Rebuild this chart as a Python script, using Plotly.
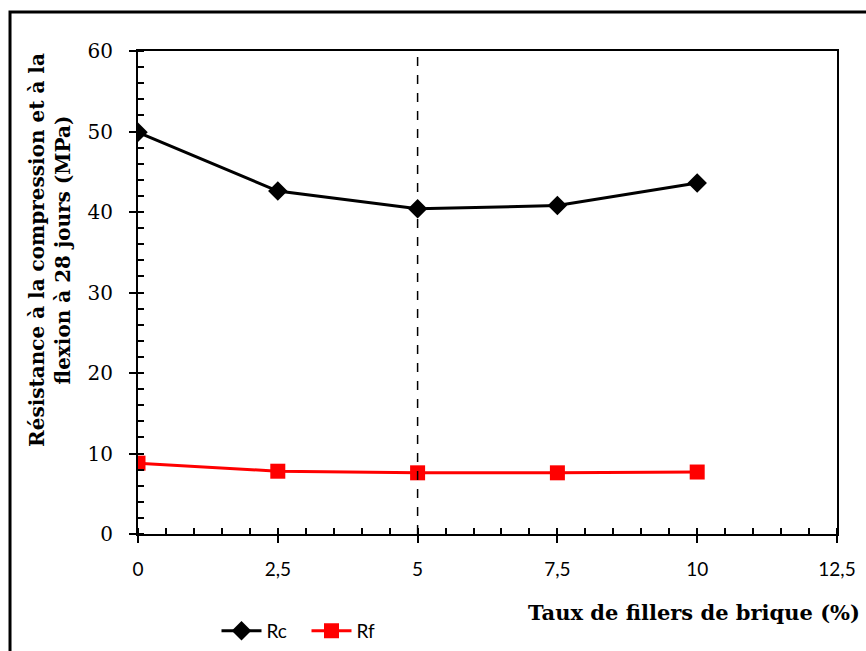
import plotly.graph_objects as go

# Taux de fillers de brique (%) et résistances à 28 jours (MPa)
taux = [0, 2.5, 5, 7.5, 10]
rc = [49.9, 42.6, 40.4, 40.8, 43.6]
rf = [8.8, 7.8, 7.6, 7.6, 7.7]

x_ticks = [0, 2.5, 5, 7.5, 10, 12.5]
x_tick_labels = ["0", "2,5", "5", "7,5", "10", "12,5"]
y_ticks = [0, 10, 20, 30, 40, 50, 60]
taux_repere = 5

fig = go.Figure()
fig.add_trace(go.Scatter(
    x=taux, y=rc, name="Rc", mode="lines+markers",
    line=dict(color="black", width=3),
    marker=dict(symbol="diamond", size=15, color="black"),
))
fig.add_trace(go.Scatter(
    x=taux, y=rf, name="Rf", mode="lines+markers",
    line=dict(color="#ff0000", width=3),
    marker=dict(symbol="square", size=15, color="#ff0000"),
))

# Repère vertical en pointillés
fig.add_shape(type="line", xref="x", yref="y",
              x0=taux_repere, x1=taux_repere, y0=0, y1=60,
              line=dict(color="black", width=1.5, dash="dash"))

# Cadre extérieur
fig.add_shape(type="rect", xref="paper", yref="paper",
              x0=-0.1831, x1=1.1, y0=-0.35, y1=1.0807,
              line=dict(color="black", width=3), layer="above")

fig.update_xaxes(
    range=[0, 12.5], tickvals=x_ticks, ticktext=x_tick_labels,
    showline=True, linecolor="black", linewidth=2, mirror=True,
    ticks="outside", ticklen=7, tickwidth=2, tickcolor="black",
    minor=dict(dtick=0.5, ticks="inside", ticklen=6, tickwidth=2, tickcolor="black"),
    showgrid=False, zeroline=False, ticklabelstandoff=10, automargin=False,
    tickfont=dict(family="Lato", size=19, color="black"),
)
fig.update_yaxes(
    range=[0, 60], tickvals=y_ticks,
    showline=True, linecolor="black", linewidth=2, mirror=True,
    ticks="outside", ticklen=7, tickwidth=2, tickcolor="black",
    minor=dict(dtick=2, ticks="inside", ticklen=6, tickwidth=2, tickcolor="black"),
    showgrid=False, zeroline=False, ticklabelstandoff=12, automargin=False,
    tickfont=dict(family="DejaVu Serif", size=20, color="black"),
)

fig.add_annotation(
    text="<b>Résistance à la compression et à la<br>flexion à 28 jours (MPa)</b>",
    xref="paper", yref="paper", x=-0.126, y=0.588,
    xanchor="center", yanchor="middle", textangle=-90, showarrow=False,
    font=dict(family="DejaVu Serif", size=20, color="black"),
)
fig.add_annotation(
    text="<b>Taux de fillers de brique (%)</b>",
    xref="paper", yref="paper", x=1.0358, y=-0.1615,
    xanchor="right", yanchor="middle", showarrow=False,
    font=dict(family="DejaVu Serif", size=21, color="black"),
)

fig.update_layout(
    width=866, height=651,
    margin=dict(l=138, r=29, t=51, b=117),
    plot_bgcolor="white", paper_bgcolor="white",
    showlegend=True,
    legend=dict(orientation="h", xref="container", yref="container",
                x=0.25, y=0.0307, xanchor="left", yanchor="middle",
                font=dict(family="Lato", size=19, color="black"),
                bgcolor="rgba(0,0,0,0)", itemwidth=40, entrywidth=35,
                tracegroupgap=0),
)

fig.write_html("out.html")
